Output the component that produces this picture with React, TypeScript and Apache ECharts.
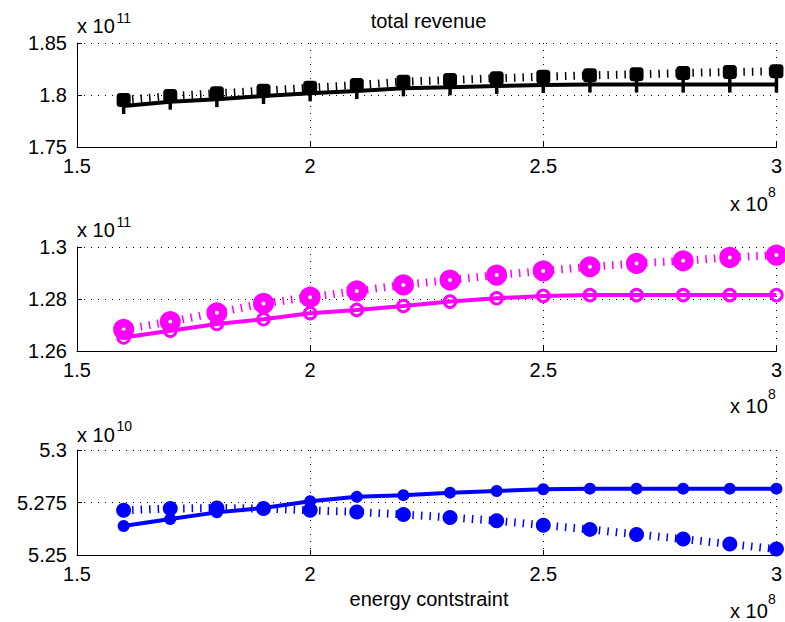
import React, { useEffect, useRef } from "react";
import * as echarts from "echarts";

// energy constraint, in units of 1e8
const energy = [1.6, 1.7, 1.8, 1.9, 2.0, 2.1, 2.2, 2.3, 2.4, 2.5, 2.6, 2.7, 2.8, 2.9, 3.0];
// total revenue, units of 1e11
const totalSolid = [1.7894, 1.7936, 1.796, 1.799, 1.8016, 1.8038, 1.8064, 1.8074, 1.8087, 1.8096, 1.81, 1.81, 1.81, 1.81, 1.81];
const totalDotted = [1.7952, 1.799, 1.8016, 1.8041, 1.807, 1.8096, 1.8128, 1.8144, 1.8161, 1.8176, 1.8189, 1.8199, 1.8212, 1.8221, 1.8228];
// second panel, units of 1e11
const midSolid = [1.2652, 1.2678, 1.2704, 1.2722, 1.2745, 1.2758, 1.2773, 1.279, 1.2803, 1.2812, 1.2815, 1.2815, 1.2815, 1.2815, 1.2815];
const midDotted = [1.2683, 1.2713, 1.2747, 1.2783, 1.2807, 1.2831, 1.2854, 1.2873, 1.2892, 1.2908, 1.2924, 1.2937, 1.2947, 1.296, 1.2969];
// third panel, units of 1e10
const lowSolid = [5.2638, 5.2671, 5.2703, 5.2724, 5.2756, 5.2777, 5.2785, 5.2797, 5.2805, 5.2813, 5.2816, 5.2816, 5.2816, 5.2816, 5.2816];
const lowDotted = [5.2713, 5.2721, 5.2724, 5.2721, 5.2713, 5.2705, 5.2693, 5.2679, 5.2663, 5.2642, 5.2622, 5.2598, 5.2576, 5.2552, 5.2528];

const yRanges = [
  { min: 1.75, max: 1.85, interval: 0.05, exp: "11" },
  { min: 1.26, max: 1.3, interval: 0.02, exp: "11" },
  { min: 5.25, max: 5.3, interval: 0.025, exp: "10" },
];
const xRange = { min: 1.5, max: 3, interval: 0.5, exp: "8" };
const titleText = "total revenue";
const xLabelText = "energy contstraint";

const FONT = "'Liberation Sans', Arial, Helvetica, sans-serif";
const pair = (ys: number[]) => energy.map((x, i) => [x, ys[i]]);
const fmt = (v: number) => String(parseFloat(v.toFixed(4)));

export default function App() {
  const ref = useRef<HTMLDivElement>(null);
  useEffect(() => {
    if (!ref.current) return;
    const chart = echarts.init(ref.current, null, { renderer: "svg" });
    const grids = [
      { left: 77, top: 43, width: 703, height: 104 },
      { left: 77, top: 247, width: 703, height: 104 },
      { left: 77, top: 450, width: 703, height: 105 },
    ];
    const gridLine = { show: true, lineStyle: { color: "#000", width: 1, type: [1, 6] as any } };
    const xAxes = grids.map((_, i) => ({
      type: "value",
      gridIndex: i,
      min: xRange.min,
      max: xRange.max,
      interval: xRange.interval,
      axisLine: { show: true, onZero: false, lineStyle: { color: "#000", width: 1 } },
      axisTick: { show: true, inside: true, length: 5, lineStyle: { color: "#000" } },
      axisLabel: { color: "#000", fontSize: 20, fontFamily: FONT, margin: 9, formatter: fmt, showMaxLabel: true, showMinLabel: true },
      splitLine: gridLine,
    }));
    const yAxes = yRanges.map((r, i) => ({
      type: "value",
      gridIndex: i,
      min: r.min,
      max: r.max,
      interval: r.interval,
      axisLine: { show: true, onZero: false, lineStyle: { color: "#000", width: 1 } },
      axisTick: { show: true, inside: true, length: 5, lineStyle: { color: "#000" } },
      axisLabel: { color: "#000", fontSize: 20, fontFamily: FONT, margin: 10, formatter: fmt },
      splitLine: gridLine,
    }));
    const dotted = { width: 8, type: [1.5, 7] as any, cap: "butt" as any };
    const solid = { width: 4, type: "solid" as any };
    const series: any[] = [
      {
        type: "line", xAxisIndex: 0, yAxisIndex: 0, data: pair(totalDotted), clip: false,
        lineStyle: { ...dotted, color: "#000" }, symbol: "roundRect", symbolSize: 14,
        itemStyle: { color: "#000" },
      },
      {
        type: "line", xAxisIndex: 0, yAxisIndex: 0, data: pair(totalSolid), clip: false,
        lineStyle: { ...solid, color: "#000" }, symbol: "rect", symbolSize: [3.5, 16],
        itemStyle: { color: "#000" },
      },
      {
        type: "line", xAxisIndex: 1, yAxisIndex: 1, data: pair(midDotted), clip: false,
        lineStyle: { ...dotted, color: "#ff00ff" }, symbol: "circle", symbolSize: 12.5,
        itemStyle: { color: "#fff", borderColor: "#ff00ff", borderWidth: 8.5 },
      },
      {
        type: "line", xAxisIndex: 1, yAxisIndex: 1, data: pair(midSolid), clip: false,
        lineStyle: { ...solid, color: "#ff00ff" }, symbol: "circle", symbolSize: 11.5,
        itemStyle: { color: "rgba(0,0,0,0)", borderColor: "#ff00ff", borderWidth: 3 },
      },
      {
        type: "line", xAxisIndex: 2, yAxisIndex: 2, data: pair(lowDotted), clip: false,
        lineStyle: { ...dotted, color: "#0000ff" }, symbol: "circle", symbolSize: 15,
        itemStyle: { color: "#0000ff" },
      },
      {
        type: "line", xAxisIndex: 2, yAxisIndex: 2, data: pair(lowSolid), clip: false,
        lineStyle: { ...solid, color: "#0000ff" }, symbol: "circle", symbolSize: 12,
        itemStyle: { color: "#0000ff" },
      },
    ];
    const txt = (x: number, y: number, text: string, size: number, align = "left") => ({
      type: "text",
      x, y,
      style: { text, fill: "#000", font: `${size}px ${FONT}`, align, verticalAlign: "middle" },
    });
    // baselines of the exponent labels
    const yExpBase = [33, 237, 441.5];
    const xExpBase = [211, 413, 618];
    const graphic: any[] = [
      txt(428.5, 21, titleText, 20, "center"),
      txt(429, 599, xLabelText, 20, "center"),
    ];
    yRanges.forEach((r, i) => {
      graphic.push(txt(77, yExpBase[i] - 7, "x 10", 20));
      graphic.push(txt(116.5, yExpBase[i] - 15.5, r.exp, 14));
    });
    xExpBase.forEach((b) => {
      graphic.push(txt(730, b - 7, "x 10", 20));
      graphic.push(txt(768, b - 19, xRange.exp, 14));
    });
    chart.setOption({
      animation: false,
      backgroundColor: "#fff",
      grid: grids,
      xAxis: xAxes,
      yAxis: yAxes,
      series,
      graphic,
    } as any);
    return () => chart.dispose();
  }, []);
  return <div ref={ref} style={{ position: "fixed", left: 0, top: 0, width: 785, height: 622, background: "#fff" }} />;
}
